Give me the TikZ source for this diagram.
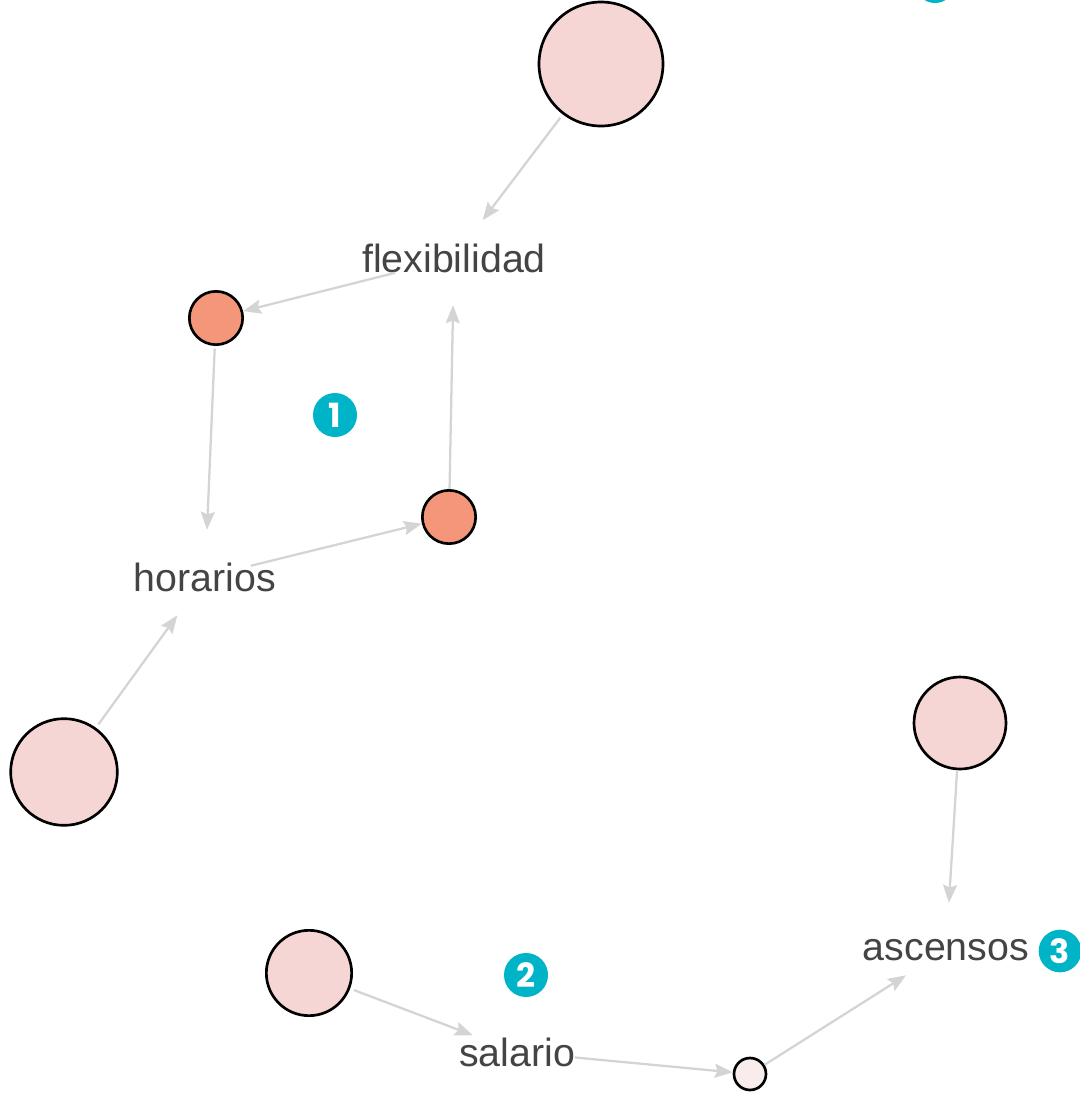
\documentclass[tikz,border=0pt]{standalone}
\usepackage{fontspec}
\setmainfont{Liberation Sans}
\newfontfamily\numfont{Poppins}
\usetikzlibrary{arrows.meta}
\definecolor{pinkfill}{RGB}{246,213,213}
\definecolor{orangefill}{RGB}{244,150,122}
\definecolor{palefill}{RGB}{248,236,236}
\definecolor{edgegray}{RGB}{212,212,212}
\definecolor{labelgray}{RGB}{68,68,68}
\definecolor{tagcyan}{RGB}{0,180,200}
\tikzset{
  px/.style={x=0.75pt,y=-0.75pt},
  bubble/.style={circle,draw=black,line width=2pt,inner sep=0pt,minimum size=#1},
  word/.style={circle,inner sep=0pt,minimum size=70.5pt,text=labelgray,font=\fontsize{29.5}{29.5}\selectfont},
  tag/.style={circle,fill=tagcyan,inner sep=0pt,minimum size=#1,text=white,font=\numfont\bfseries\fontsize{25}{25}\selectfont},
  link/.style={draw=edgegray,line width=1.7pt,-{Stealth[length=13.5pt,width=10.5pt,inset=2pt]}}
}
\begin{document}
\begin{tikzpicture}[px]
\useasboundingbox (0,0) rectangle (1080,1093);
% nodes
\node[bubble=93pt,fill=pinkfill] (top) at (601,64) {};
\node[word] (flex) at (454,258) {\makebox[0pt]{flexibilidad}};
\node[bubble=40pt,fill=orangefill] (o1) at (216,318) {};
\node[bubble=40pt,fill=orangefill] (o2) at (449,517) {};
\node[word] (hor) at (205,577) {\makebox[0pt]{horarios}};
\node[bubble=80pt,fill=pinkfill] (left) at (64,772) {};
\node[bubble=69pt,fill=pinkfill] (right) at (960,723) {};
\node[word] (asc) at (946,950) {\makebox[0pt]{ascensos}};
\node[bubble=64pt,fill=pinkfill] (bl) at (309,973) {};
\node[word] (sal) at (517,1052) {\makebox[0pt]{salario}};
\node[bubble=24pt,fill=palefill] (small) at (750,1074) {};
% tags
\node[tag=33pt] (t1) at (335,415) {1};
\node[tag=33pt] (t2) at (526,975) {2};
\node[tag=32pt] (t3) at (1060,951) {3};
\node[tag=30pt] (t0) at (935,-17) {};
% edges
\draw[link,shorten <=3pt] (top) -- (flex);
\draw[link,shorten <=10pt] (flex) -- (o1);
\draw[link,shorten <=2pt] (o1) -- (hor);
\draw[link] (hor) -- (o2);
\draw[link] (o2) -- (flex);
\draw[link,shorten <=3pt] (left) -- (hor);
\draw[link] (right) -- (asc);
\draw[link,shorten <=3pt] (bl) -- (sal);
\draw[link,shorten <=8pt] (sal) -- (small);
\draw[link] (small) -- (asc);
\end{tikzpicture}
\end{document}
